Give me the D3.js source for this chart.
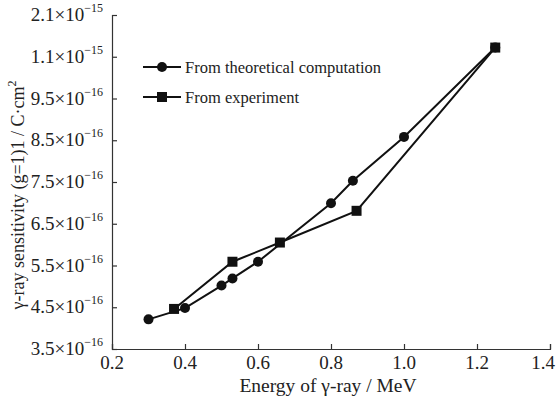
<!DOCTYPE html>
<html><head><meta charset="utf-8">
<script src="https://cdn.jsdelivr.net/npm/d3@7"></script>
<style>body{margin:0;background:#fff}svg{display:block}</style>
</head><body><svg id="c" width="557" height="396" font-family="'Liberation Serif', 'DejaVu Serif', serif"></svg>
<script>
const theoX = [0.30, 0.40, 0.50, 0.53, 0.60, 0.80, 0.86, 1.00, 1.25];
const theoY = [4.21, 4.48, 5.02, 5.19, 5.59, 6.99, 7.53, 8.58, 10.72];
const expX = [0.37, 0.53, 0.66, 0.87, 1.25];
const expY = [4.46, 5.59, 6.05, 6.81, 10.72];
const xTicks = [0.2, 0.4, 0.6, 0.8, 1.0, 1.2, 1.4];
const xTickLabels = ["0.2", "0.4", "0.6", "0.8", "1.0", "1.2", "1.4"];
const yTicks = [3.5, 4.5, 5.5, 6.5, 7.5, 8.5, 9.5, 10.5, 11.5];
const yTickMantissa = ["3.5", "4.5", "5.5", "6.5", "7.5", "8.5", "9.5", "1.1", "2.1"];
const yTickExp = ["−16", "−16", "−16", "−16", "−16", "−16", "−16", "−15", "−15"];
const seriesNames = ["From theoretical computation", "From experiment"];

const svg = d3.select("#c");
const x = d3.scaleLinear().domain([0.2, 1.4]).range([112, 550]);
const y = d3.scaleLinear().domain([3.5, 11.5]).range([349, 15]);

const gx = svg.append("g").attr("transform", "translate(0,349)")
  .call(d3.axisBottom(x).tickValues(xTicks).tickSize(-5).tickFormat(""));
const gy = svg.append("g").attr("transform", "translate(112,0)")
  .call(d3.axisLeft(y).tickValues(yTicks).tickSize(-5).tickFormat(""));
[gx, gy].forEach(g => { g.select(".domain").attr("stroke", "#333").attr("stroke-width", 1.2);
  g.selectAll(".tick line").attr("stroke", "#333").attr("stroke-width", 1.2); });

svg.append("g").selectAll("text").data(xTicks).join("text")
  .attr("x", (d, i) => i === xTicks.length - 1 ? 555 : x(d)).attr("y", 369)
  .attr("text-anchor", (d, i) => i === xTicks.length - 1 ? "end" : "middle")
  .attr("font-size", 19).attr("fill", "#222").text((d, i) => xTickLabels[i]);

const yl = svg.append("g").selectAll("text").data(yTicks).join("text")
  .attr("x", 103).attr("y", d => y(d) + 6).attr("text-anchor", "end").attr("font-size", 19).attr("fill", "#222");
yl.append("tspan").text((d, i) => yTickMantissa[i] + "×10");
yl.append("tspan").attr("font-size", 12).attr("dy", -9).text((d, i) => yTickExp[i]);

svg.append("text").attr("x", 328).attr("y", 392).attr("text-anchor", "middle")
  .attr("font-size", 19.5).attr("fill", "#222").text("Energy of γ-ray / MeV");
const yt = svg.append("text").attr("transform", "translate(24,195) rotate(-90)")
  .attr("text-anchor", "middle").attr("font-size", 18).attr("fill", "#222");
yt.append("tspan").text("γ-ray sensitivity (g=1)1 / C·cm");
yt.append("tspan").attr("font-size", 12).attr("dy", -8).text("2");

const line = d3.line().x(d => x(d[0])).y(d => y(d[1]));
const theo = theoX.map((v, i) => [v, theoY[i]]);
const exp = expX.map((v, i) => [v, expY[i]]);
svg.append("path").attr("d", line(theo)).attr("fill", "none").attr("stroke", "#111").attr("stroke-width", 2);
svg.append("path").attr("d", line(exp)).attr("fill", "none").attr("stroke", "#111").attr("stroke-width", 2);
svg.append("g").selectAll("circle").data(theo).join("circle")
  .attr("cx", d => x(d[0])).attr("cy", d => y(d[1])).attr("r", 5).attr("fill", "#111");
svg.append("g").selectAll("rect").data(exp).join("rect")
  .attr("x", d => x(d[0]) - 5).attr("y", d => y(d[1]) - 5).attr("width", 10).attr("height", 10).attr("fill", "#111");

const lg = svg.append("g");
[0, 1].forEach(i => {
  const ly = 67 + i * 30;
  lg.append("line").attr("x1", 143).attr("x2", 181).attr("y1", ly).attr("y2", ly).attr("stroke", "#111").attr("stroke-width", 2);
  if (i === 0) lg.append("circle").attr("cx", 162).attr("cy", ly).attr("r", 5).attr("fill", "#111");
  else lg.append("rect").attr("x", 157).attr("y", ly - 5).attr("width", 10).attr("height", 10).attr("fill", "#111");
  lg.append("text").attr("x", 185).attr("y", ly + 6).attr("font-size", 16.5).attr("fill", "#222").text(seriesNames[i]);
});
</script></body></html>
